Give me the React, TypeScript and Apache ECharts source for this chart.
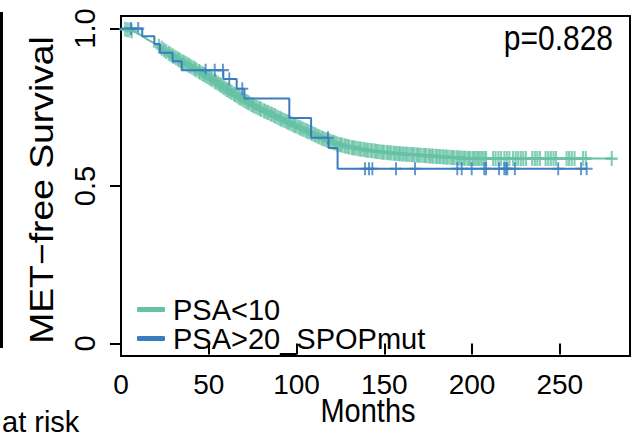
import React, { useEffect, useRef } from "react";
import * as echarts from "echarts";

// ---------- data ----------
const seriesNames = ["PSA<10", "PSA>20_SPOPmut"];
const seriesColors = ["#66C2A5", "#3A7DBF"];

const xTickValues = [0, 50, 100, 150, 200, 250];
const yTickValues = [0, 0.5, 1.0];
const yTickLabels = ["0", "0.5", "1.0"];

const xTitle = "Months";
const yTitle = "MET\u2212free Survival";
const riskTitle = "at risk";
const pValueText = "p=0.828";

const greenTimes = [0, 5, 10, 15, 20, 25, 30, 35, 40, 45, 50, 55, 60, 65, 70, 75, 80, 85, 90, 95, 100, 105, 110, 115, 120, 125, 130, 135, 140, 150, 160, 170, 180, 190, 200, 280];
const greenSurv = [1.0, 0.995, 0.984, 0.966, 0.95, 0.93, 0.911, 0.895, 0.879, 0.862, 0.845, 0.827, 0.808, 0.79, 0.773, 0.757, 0.743, 0.73, 0.716, 0.703, 0.69, 0.677, 0.664, 0.651, 0.64, 0.631, 0.624, 0.619, 0.614, 0.607, 0.602, 0.598, 0.594, 0.59, 0.587, 0.587];
const greenCensor = [
  2.4, 3.6, 4.8, 6.1, 21.6, 23.2, 24.5, 25.7,
  27.2, 28.1, 29.3, 30.0, 31.2, 32.4, 33.1, 34.0, 35.3, 36.1, 37.2, 38.4, 39.0, 40.1, 41.3, 42.2, 43.0, 44.4, 45.1, 46.3, 47.2, 48.0, 49.1, 50.3,
  51.2, 52.0, 53.4, 54.1, 55.2, 56.3, 57.0, 58.2, 59.1, 60.3, 61.0, 62.2, 63.1, 64.4, 65.0, 66.2, 67.3, 68.1, 69.0, 70.2, 71.4, 72.1, 73.0, 74.3,
  75.2, 76.0, 77.1, 78.3, 79.2, 80.0, 81.4, 82.1, 83.3, 84.0, 85.2, 86.1, 87.3, 88.0, 89.2, 90.4, 91.1, 92.0, 93.2, 94.3, 95.1, 96.0, 97.2, 98.4,
  99.1, 100.0, 101.3, 102.2, 103.0, 104.1, 105.3, 106.2, 107.0, 108.4, 109.1, 110.3, 111.0, 112.2, 113.1, 114.3, 115.0, 116.2, 117.4, 118.1, 119.0,
  120.3, 121.2, 122.0, 123.1, 124.4, 125.2, 126.0, 127.3, 128.1, 129.2, 130.0, 131.4, 132.2, 133.0, 134.1, 135.3, 136.2, 137.0, 138.3, 139.1, 140.2,
  141.0, 142.3, 143.1, 144.4, 145.2, 146.0, 147.1, 148.3, 149.2, 150.0, 151.4, 152.1, 153.2, 154.0, 155.3, 156.1, 157.2, 158.4, 159.0, 160.2, 161.1,
  162.3, 163.0, 164.2, 165.4, 166.1, 167.0, 168.3, 169.2, 170.0, 171.1, 172.4, 173.2, 174.0, 175.3, 176.1, 177.2, 178.0, 179.4, 180.1, 181.3, 182.0,
  183.2, 184.1, 185.3, 186.0, 187.2, 188.4, 189.1, 190.0, 191.3, 192.2, 193.0, 194.2, 195.3, 196.1, 197.4, 198.2, 199.0, 200.3, 201.1, 202.2, 203.4,
  204.0, 205.2, 206.1, 207.3, 208.0, 212.0, 213.4, 215.0, 216.5, 218.4, 219.8, 221.3, 223.4, 224.9, 226.3, 227.8, 229.2, 230.7, 234.3, 235.8, 237.2,
  238.7, 241.9, 243.4, 244.9, 246.4, 247.8, 253.9, 255.3, 256.8, 258.4, 263.2, 264.8, 279.6,
];

// PSA>20_SPOPmut (step KM curve)
const blueTimes = [0, 12.1, 19.0, 22.2, 29.4, 34.6, 58.3, 65.9, 70.3, 95.9, 108.3, 118.3, 123.4, 265.3];
const blueSurv = [1.0, 0.976, 0.951, 0.923, 0.896, 0.868, 0.84, 0.809, 0.778, 0.716, 0.653, 0.621, 0.555, 0.555];
const blueCensor = [5.7, 9.8, 48.2, 53.4, 58.1, 61.7, 69.1, 117.9, 139.0, 141.3, 143.2, 156.7, 167.5, 191.6, 194.1, 199.8, 207.0, 208.0, 215.4, 218.4, 219.4, 220.1, 224.4, 249.1, 262.1, 265.3];

// ---------- helpers ----------
const FONT = '"Liberation Sans", Arial, Helvetica, sans-serif';

function stepAt(times: number[], surv: number[], t: number): number {
  let s = surv[0];
  for (let i = 0; i < times.length; i++) {
    if (times[i] <= t) s = surv[i];
  }
  return s;
}
function lineAt(times: number[], surv: number[], t: number): number {
  for (let i = 1; i < times.length; i++) {
    if (t <= times[i]) {
      const f = (t - times[i - 1]) / (times[i] - times[i - 1]);
      return surv[i - 1] + f * (surv[i] - surv[i - 1]);
    }
  }
  return surv[surv.length - 1];
}

const plusSymbol = "path://M5,0L5,10M0,5L10,5";

export default function App() {
  const ref = useRef<HTMLDivElement>(null);

  useEffect(() => {
    if (!ref.current) return;
    const chart = echarts.init(ref.current, undefined, { renderer: "svg" });

    const greenLine = greenTimes.map((t, i) => [t, greenSurv[i]]);
    const blueLine = blueTimes.map((t, i) => [t, blueSurv[i]]);
    const greenMarks = greenCensor.map((t) => [t, lineAt(greenTimes, greenSurv, t)]);
    const blueMarks = blueCensor.map((t) => [t, stepAt(blueTimes, blueSurv, t)]);

    const option: any = {
      animation: false,
      backgroundColor: "#ffffff",
      grid: {
        left: 121,
        right: 9,
        top: 16,
        bottom: 81,
        show: true,
        borderColor: "#000",
        borderWidth: 2,
        backgroundColor: "transparent",
        containLabel: false,
      },
      legend: {
        orient: "vertical",
        left: 132,
        top: 290,
        itemWidth: 28,
        itemHeight: 5,
        itemGap: 0,
        icon: "roundRect",
        selectedMode: false,
        data: seriesNames.map((n) => ({ name: n })),
        textStyle: {
          fontSize: 29,
          fontFamily: FONT,
          color: "#000",
          lineHeight: 25,
          padding: [0, 0, 0, 3],
        },
      },
      xAxis: {
        type: "value",
        min: 0,
        max: 290,
        axisLine: { show: false },
        splitLine: { show: false },
        axisTick: {
          show: true,
          inside: false,
          length: 11,
          customValues: xTickValues,
          lineStyle: { color: "#000", width: 2 },
        },
        axisLabel: {
          customValues: xTickValues,
          fontSize: 28,
          fontFamily: FONT,
          color: "#000",
          margin: 14,
        },
      },
      yAxis: {
        type: "value",
        min: -0.04,
        max: 1.04,
        axisLine: { show: false },
        splitLine: { show: false },
        axisTick: {
          show: true,
          inside: false,
          length: 11,
          customValues: yTickValues,
          lineStyle: { color: "#000", width: 2 },
        },
        axisLabel: {
          customValues: yTickValues,
          rotate: 90,
          fontSize: 29,
          fontFamily: FONT,
          color: "#000",
          margin: 22,
          formatter: (v: number) => {
            const idx = yTickValues.findIndex((y) => Math.abs(y - v) < 1e-6);
            return idx >= 0 ? yTickLabels[idx] : "";
          },
        },
      },
      series: [
        {
          name: seriesNames[0],
          type: "line",
          data: greenLine,
          showSymbol: false,
          symbol: "none",
          lineStyle: { color: seriesColors[0], width: 2 },
          itemStyle: { color: seriesColors[0] },
          silent: true,
        },
        {
          name: seriesNames[0] + " censored",
          type: "scatter",
          data: greenMarks,
          symbol: plusSymbol,
          symbolSize: [12, 15],
          itemStyle: { color: seriesColors[0], borderColor: seriesColors[0], borderWidth: 2.4 },
          silent: true,
        },
        {
          name: seriesNames[1],
          type: "line",
          step: "end",
          data: blueLine,
          showSymbol: false,
          symbol: "none",
          lineStyle: { color: seriesColors[1], width: 2 },
          itemStyle: { color: seriesColors[1] },
          silent: true,
        },
        {
          name: seriesNames[1] + " censored",
          type: "scatter",
          data: blueMarks,
          symbol: plusSymbol,
          symbolSize: [12, 13],
          itemStyle: { color: seriesColors[1], borderColor: seriesColors[1], borderWidth: 2 },
          silent: true,
        },
      ],
      graphic: [
        {
          type: "line",
          shape: { x1: 1.5, y1: 12, x2: 1.5, y2: 348 },
          style: { stroke: "#000", lineWidth: 3 },
          silent: true,
        },
        {
          type: "text",
          x: 41,
          y: 190,
          rotation: Math.PI / 2,
          scaleX: 1.13,
          style: {
            text: yTitle,
            fontSize: 33,
            fontFamily: FONT,
            fill: "#000",
            align: "center",
            verticalAlign: "middle",
            textAlign: "center",
            textVerticalAlign: "middle",
          },
          silent: true,
        },
        {
          type: "text",
          x: 613,
          y: 38,
          scaleY: 1.15,
          style: {
            text: pValueText,
            fontSize: 30,
            fontFamily: FONT,
            fill: "#000",
            align: "right",
            verticalAlign: "middle",
            textAlign: "right",
            textVerticalAlign: "middle",
          },
          silent: true,
        },
        {
          type: "text",
          x: 368,
          y: 411,
          scaleY: 1.15,
          style: {
            text: xTitle,
            fontSize: 29,
            fontFamily: FONT,
            fill: "#000",
            align: "center",
            verticalAlign: "middle",
            textAlign: "center",
            textVerticalAlign: "middle",
          },
          silent: true,
        },
        {
          type: "text",
          x: 2,
          y: 436,
          style: {
            text: riskTitle,
            fontSize: 29,
            fontFamily: FONT,
            fill: "#000",
            align: "left",
            verticalAlign: "bottom",
            textAlign: "left",
            textVerticalAlign: "bottom",
          },
          silent: true,
        },
      ],
    };

    chart.setOption(option);
    return () => chart.dispose();
  }, []);

  return (
    <div
      ref={ref}
      style={{ position: "fixed", left: 0, top: 0, width: 639, height: 437, background: "#fff" }}
    />
  );
}
